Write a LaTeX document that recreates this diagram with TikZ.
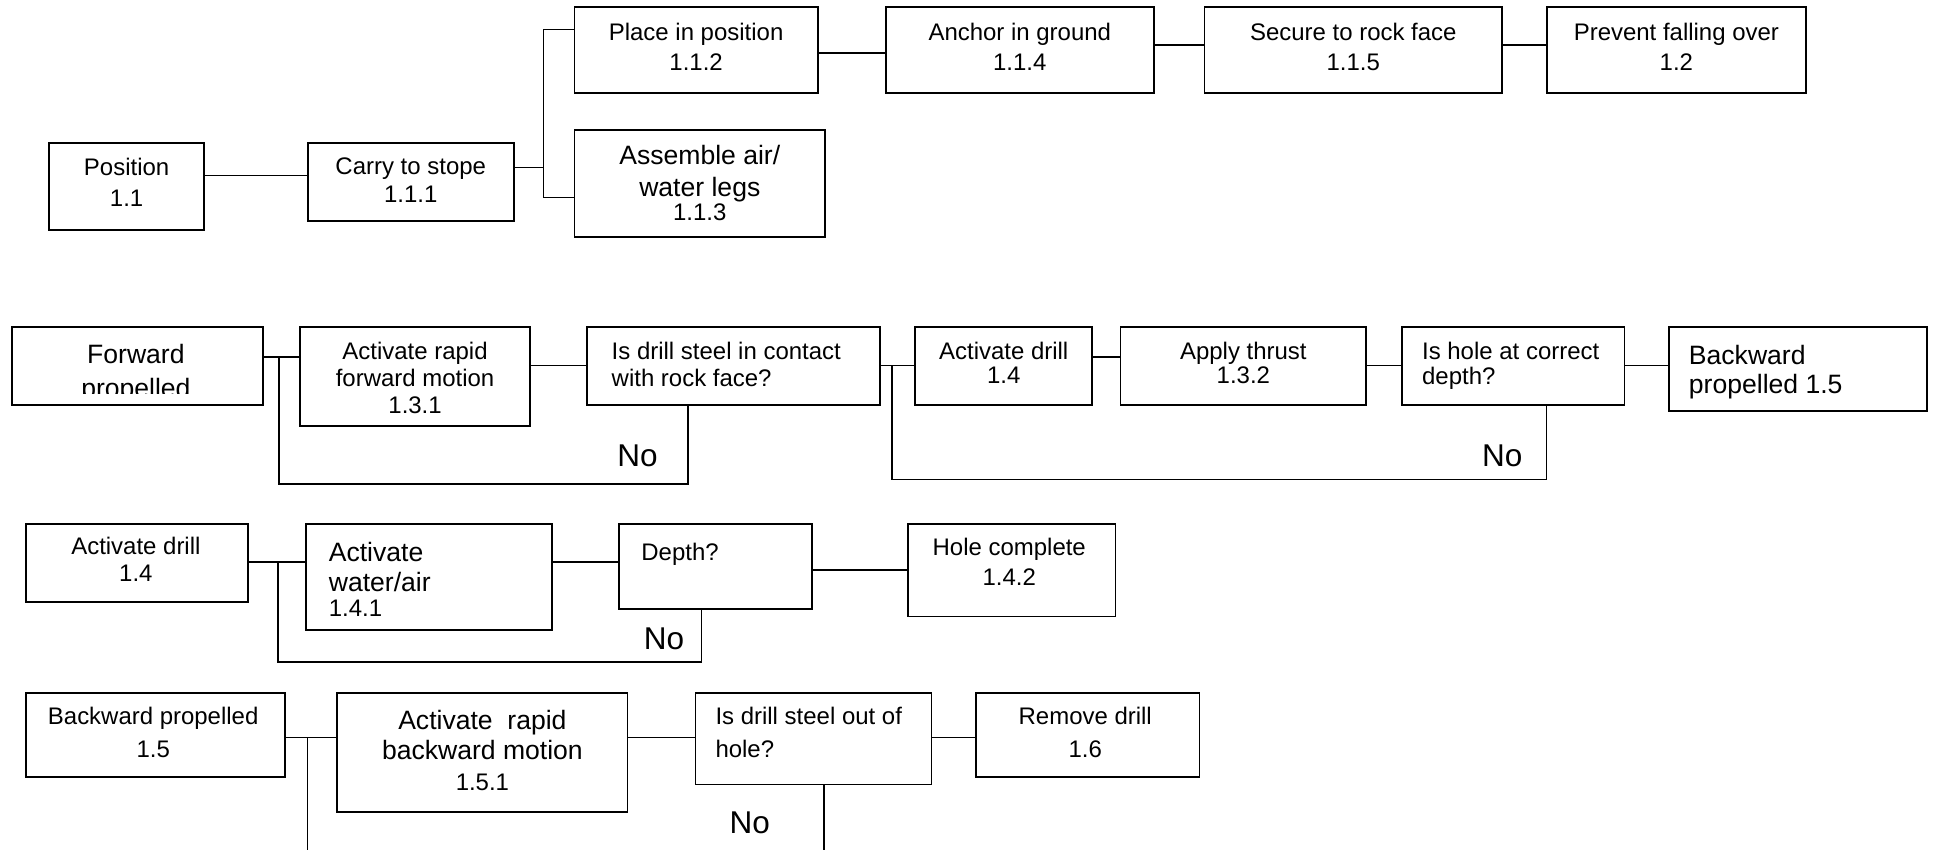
\documentclass[tikz,border=0pt]{standalone}
\usepackage{fontspec}
\setmainfont{Liberation Sans}

\begin{document}
\begin{tikzpicture}[x=1pt,y=-1pt,
  box/.style args={#1/#2}{draw,line width=1.5pt,minimum width=#1pt,minimum height=#2pt,inner sep=0pt},
  txt/.style={font=\fontsize{19.4}{#1}\selectfont,align=center,inner sep=0pt},
  big/.style={font=\fontsize{21.5}{#1}\selectfont,align=center,inner sep=0pt},
  nolbl/.style={font=\fontsize{25.5}{30}\selectfont,inner sep=0pt},
  link/.style={line width=1.3pt},
]
  \useasboundingbox (0,0) rectangle (1568,688);

  % row 1: position
  \node[box=125/70] (pos) at (102.5,151) {};
  \node[box=167/63] (carry) at (332.5,147.5) {};
  \node[box=197/69] (place) at (563.5,40.5) {};
  \node[box=203/87] (assem) at (566.5,148.5) {};
  \node[box=217/69] (ground) at (825.5,40.5) {};
  \node[box=241/69] (secure) at (1095.5,40.5) {};
  \node[box=210/69] (prevent) at (1357,40.5) {};

  \node[txt=25] (posT) at (102.5,147.3) {Position\\1.1};
  \node[txt=22] (carryT) at (332.5,145.8) {Carry to stope\\1.1.1};
  \node[txt=24] (placeT) at (563.5,37.8) {Place in position\\1.1.2};
  \node[big=25.5] (assemT) at (566.5,148.4) {Assemble air/\\water legs\\[-5.5pt]\fontsize{19.4}{24}\selectfont 1.1.3};
  \node[txt=24] (groundT) at (825.5,37.8) {Anchor in ground\\1.1.4};
  \node[txt=24] (secureT) at (1095.5,37.8) {Secure to rock face\\1.1.5};
  \node[txt=24] (preventT) at (1357,37.8) {Prevent falling over\\1.2};

  \coordinate (jA) at (440,135.5);
  \coordinate (jTop) at (440,24);
  \coordinate (jBot) at (440,160);
  \draw[link] ([yshift=9pt]pos.east) -- ([yshift=5.5pt]carry.west);
  \draw[link] (carry.east |- jA) -- (jA);
  \draw[link] (place.west |- jTop) -- (jTop) -- (jBot) -- (assem.west |- jBot);
  \draw[link] ([yshift=-2.5pt]place.east) -- ([yshift=-2.5pt]ground.west);
  \draw[link] ([yshift=4pt]ground.east) -- ([yshift=4pt]secure.west);
  \draw[link] ([yshift=4pt]secure.east) -- ([yshift=4pt]prevent.west);

  % row 2: forward propelled
  \node[box=203/63] (fwd) at (111.5,296.5) {};
  \node[box=186/80] (rapidF) at (336,305) {};
  \node[box=237/63] (contact) at (594,296.5) {};
  \node[box=143/63] (drillA) at (812.5,296.5) {};
  \node[box=199/63] (thrust) at (1006.5,296.5) {};
  \node[box=180/63] (depthA) at (1225,296.5) {};
  \node[box=209/68] (backA) at (1455.5,299) {};

  \begin{scope}
    \clip (fwd.north west) rectangle ([yshift=10.5pt]fwd.south east);
    \node[big=28] (fwdT) at (110,302.5) {Forward\\propelled};
  \end{scope}
  \node[txt=21.75] (rapidFT) at (336,306) {Activate rapid\\forward motion\\1.3.1};
  \node[txt=21.5,align=left,anchor=west] (contactT) at (495,295) {Is drill steel in contact\\with rock face?};
  \node[txt=19.5] (drillAT) at (812.5,294) {Activate drill\\1.4};
  \node[txt=19.5] (thrustT) at (1006.5,294) {Apply thrust\\1.3.2};
  \node[txt=19.5,align=left,anchor=west] (depthAT) at (1151,296.1) {Is hole at correct\\depth?};
  \node[big=24,align=left,anchor=west] (backAT) at (1367,301.2) {Backward\\propelled 1.5};

  \coordinate (jF) at (226,289);
  \coordinate (loopF) at (557,392);
  \coordinate (jC) at (722,296);
  \coordinate (loopC) at (1252,388);
  \draw[link] (fwd.east |- jF) -- (rapidF.west |- jF);
  \draw[link] (jF) |- (loopF) -- (loopF |- contact.south);
  \draw[link] (rapidF.east |- jC) -- (contact.west |- jC);
  \draw[link] (contact.east |- jC) -- (drillA.west |- jC);
  \draw[link] (jC) |- (loopC) -- (loopC |- depthA.south);
  \draw[link] (drillA.east |- jF) -- (thrust.west |- jF);
  \draw[link] (thrust.east |- jC) -- (depthA.west |- jC);
  \draw[link] (depthA.east |- jC) -- (backA.west |- jC);
  \node[nolbl] (noF) at (516,369) {No};
  \node[nolbl] (noC) at (1216,369) {No};

  % row 3: activate drill
  \node[box=180/63] (drillB) at (111,455.5) {};
  \node[box=199/86] (water) at (347.5,467) {};
  \node[box=156/69] (depthB) at (579,458.5) {};
  \node[box=168/75] (holeC) at (819,461.5) {};

  \node[txt=22] (drillBT) at (110,452.8) {Activate drill\\1.4};
  \node[big=24,align=left,anchor=west] (waterT) at (266,469.2) {Activate\\water/air\\[-3.3pt]\fontsize{19.4}{24}\selectfont 1.4.1};
  \node[txt=24,anchor=west] (depthBT) at (519,449) {Depth?};
  \node[txt=25] (holeCT) at (817,454.8) {Hole complete\\1.4.2};

  \coordinate (jD) at (225,455);
  \coordinate (loopD) at (568,536);
  \draw[link] (drillB.east |- jD) -- (water.west |- jD);
  \draw[link] (jD) |- (loopD) -- (loopD |- depthB.south);
  \draw[link] (water.east |- jD) -- (depthB.west |- jD);
  \draw[link] (depthB.east |- holeC) -- (holeC.west);
  \node[nolbl] (noD) at (537.5,517.5) {No};

  % row 4: backward propelled
  \node[box=210/68] (backB) at (126,595) {};
  \node[box=235/96] (rapidB) at (390.5,609) {};
  \node[box=191/74] (outQ) at (658.5,598) {};
  \node[box=181/68] (removeD) at (880.5,595) {};

  \node[txt=26.5] (backBT) at (124,592.6) {Backward propelled\\1.5};
  \node[big=24.5] (rapidBT) at (390.5,607.7) {Activate\ \ rapid\\backward motion\\[0.7pt]\fontsize{19.4}{24}\selectfont 1.5.1};
  \node[txt=26.5,align=left,anchor=west] (outQT) at (579,592.6) {Is drill steel out of\\hole?};
  \node[txt=26.5] (removeDT) at (878.5,592.6) {Remove drill\\1.6};

  \coordinate (jE) at (249,597);
  \coordinate (endE) at (249,688);
  \coordinate (endQ) at (667,688);
  \draw[link] (backB.east |- jE) -- (rapidB.west |- jE);
  \draw[link] (jE) -- (endE);
  \draw[link] (rapidB.east |- jE) -- (outQ.west |- jE);
  \draw[link] (outQ.east |- jE) -- (removeD.west |- jE);
  \draw[link] (endQ |- outQ.south) -- (endQ);
  \node[nolbl] (noE) at (607,666) {No};
\end{tikzpicture}
\end{document}
